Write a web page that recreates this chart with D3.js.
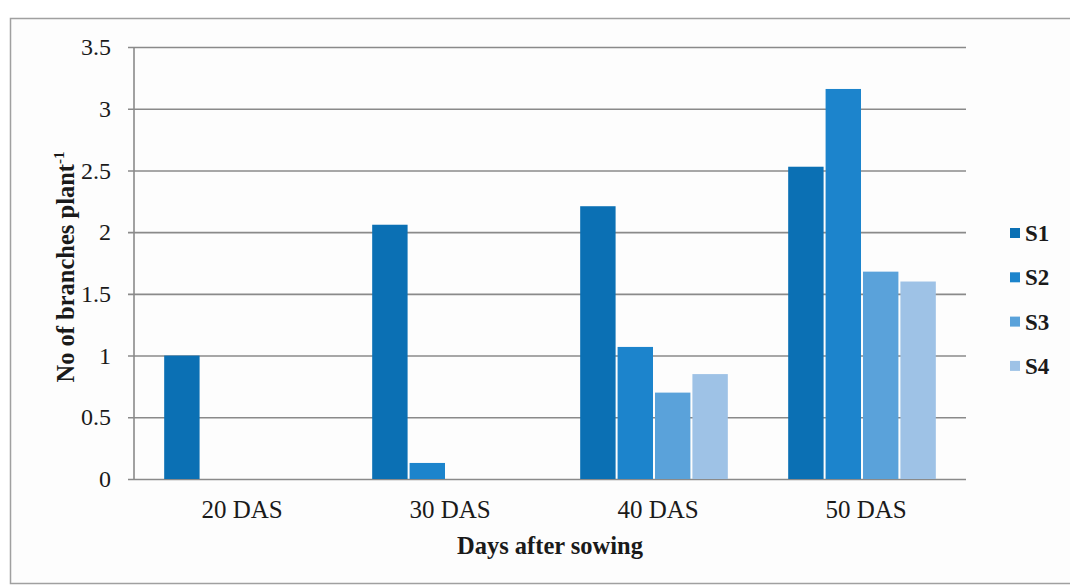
<!DOCTYPE html>
<html>
<head>
<meta charset="utf-8">
<script src="https://cdn.jsdelivr.net/npm/d3@7"></script>
<style>
  html, body { margin: 0; padding: 0; background: #ffffff; }
  svg { display: block; }
</style>
</head>
<body>
<svg id="chart" width="1070" height="587"></svg>
<script>
const categories = ["20 DAS", "30 DAS", "40 DAS", "50 DAS"];
const seriesNames = ["S1", "S2", "S3", "S4"];
const S1 = [1.0, 2.06, 2.21, 2.53];
const S2 = [0, 0.13, 1.07, 3.16];
const S3 = [0, 0, 0.70, 1.68];
const S4 = [0, 0, 0.85, 1.60];
const yTicks = [0, 0.5, 1, 1.5, 2, 2.5, 3, 3.5];
const colors = ["#0b70b4", "#1c84cc", "#5aa2da", "#9ec2e6"];

const FONT = "'Liberation Serif', 'DejaVu Serif', 'Times New Roman', Times, serif";
const seriesValues = [S1, S2, S3, S4];
const data = categories.map((c, i) => ({
  cat: c,
  vals: seriesNames.map((s, j) => ({ s, v: seriesValues[j][i] }))
}));

const svg = d3.select("#chart").style("font-family", FONT);
const pLeft = 134, pRight = 966, pTop = 47, pBottom = 479;

// outer frame
svg.append("rect").attr("x", 0).attr("y", 0).attr("width", 1070).attr("height", 587).attr("fill", "#ffffff");
svg.append("rect").attr("x", 10.5).attr("y", 18.5).attr("width", 1080).attr("height", 565)
  .attr("fill", "#fdfdfd").attr("stroke", "#a0a0a0").attr("stroke-width", 1.5);

const y = d3.scaleLinear().domain([0, 3.5]).range([pBottom, pTop]);
const x0 = d3.scaleBand().domain(categories).range([pLeft, pRight]).padding(0);
const x1 = d3.scaleBand().domain(seriesNames).range([0, x0.bandwidth()]).paddingOuter(0.78).paddingInner(0);

// gridlines + y axis
const yAxis = d3.axisLeft(y).tickValues(yTicks).tickSize(-(pRight - pLeft)).tickPadding(23)
  .tickFormat(d => d3.format("")(d));
const gy = svg.append("g").attr("transform", `translate(${pLeft},0)`).call(yAxis)
  .attr("font-family", FONT);
gy.select(".domain").remove();
gy.selectAll(".tick line").attr("stroke", "#8a8a8a").attr("stroke-width", 1.6).attr("x1", -6);
gy.selectAll(".tick text").attr("font-size", 24).attr("fill", "#1a1a1a")
  .style("font-family", FONT);
svg.append("line").attr("x1", pLeft).attr("x2", pLeft).attr("y1", pTop).attr("y2", pBottom)
  .attr("stroke", "#8a8a8a").attr("stroke-width", 1.6);

// bars
const groups = svg.append("g").selectAll("g").data(data).join("g")
  .attr("transform", d => `translate(${x0(d.cat)},0)`);
groups.selectAll("rect").data(d => d.vals.filter(e => e.v > 0)).join("rect")
  .attr("x", d => x1(d.s) + 1)
  .attr("width", x1.bandwidth() - 2)
  .attr("y", d => y(d.v))
  .attr("height", d => y(0) - y(d.v))
  .attr("fill", (d) => colors[seriesNames.indexOf(d.s)]);

// x axis labels
const xAxis = d3.axisBottom(x0).tickSize(0).tickPadding(21);
const gx = svg.append("g").attr("transform", `translate(0,${pBottom})`).call(xAxis)
  .attr("font-family", FONT);
gx.select(".domain").remove();
gx.selectAll(".tick text").attr("font-size", 25).attr("fill", "#1a1a1a").attr("dx", 4)
  .style("font-family", FONT);

// axis titles
svg.append("text").attr("x", (pLeft + pRight) / 2).attr("y", 554).attr("text-anchor", "middle")
  .style("font-family", FONT).attr("fill", "#1a1a1a")
  .attr("font-size", 24.5).attr("font-weight", "bold").text("Days after sowing");

const yt = svg.append("text").attr("transform", "translate(74,267) rotate(-90)")
  .style("font-family", FONT).attr("fill", "#1a1a1a")
  .attr("text-anchor", "middle").attr("font-size", 24.5).attr("font-weight", "bold");
yt.append("tspan").text("No of branches plant");
yt.append("tspan").attr("dy", -10).attr("font-size", 15).text("-1");

// legend
const lg = svg.append("g").selectAll("g").data(seriesNames).join("g")
  .attr("transform", (d, i) => `translate(1010,${233 + i * 44.3})`);
lg.append("rect").attr("x", 0).attr("y", -5).attr("width", 10).attr("height", 10)
  .attr("fill", (d, i) => colors[i]);
lg.append("text").attr("x", 15).attr("y", 8).attr("font-size", 23).attr("font-weight", "bold")
  .style("font-family", FONT).attr("fill", "#1a1a1a").text(d => d);
</script>
</body>
</html>
